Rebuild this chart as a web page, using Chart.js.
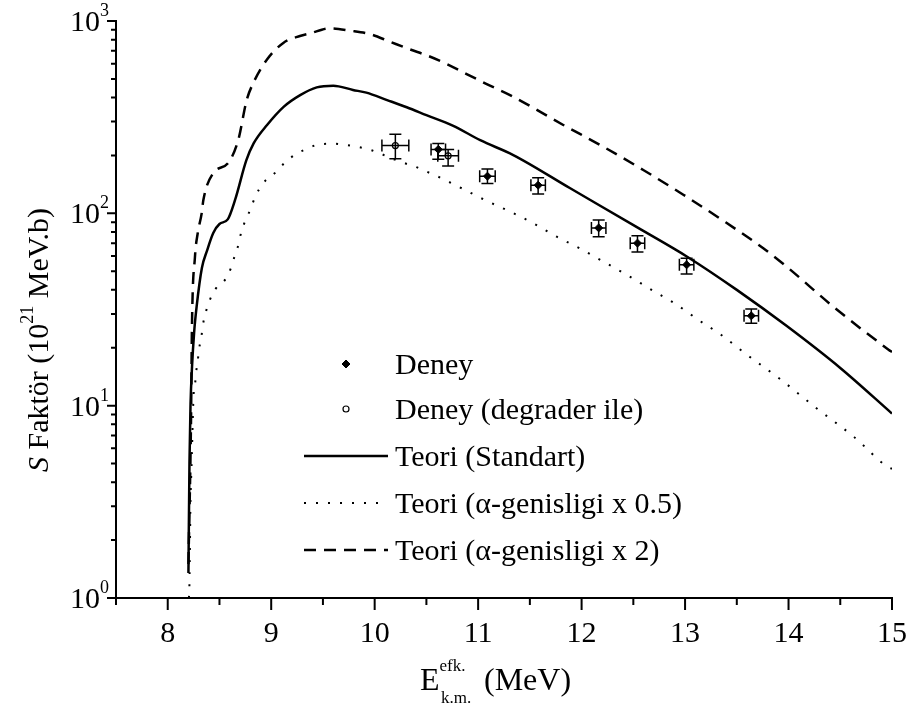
<!DOCTYPE html>
<html>
<head>
    <title>S Faktör</title>
    <script src="https://cdn.jsdelivr.net/npm/chart.js"></script>
    <style>
        body {
            margin: 0;
            background: #fff;
        }
        #sChart {
            display: block;
        }
    </style>
</head>
<body>
    <canvas id="sChart" width="911" height="706"></canvas>

    <script>
        // Teori (Standart)
        const stdE = [8.20, 8.21, 8.22, 8.235, 8.255, 8.28, 8.33, 8.38, 8.44, 8.50, 8.58, 8.65, 8.76, 8.83, 8.96, 9.12, 9.28, 9.44, 9.60, 9.79, 9.92, 10.12, 10.31, 10.50, 10.76, 11.02, 11.34, 11.89, 12.53, 13.02, 13.50, 13.98, 14.50, 15.00];
        const stdS = [1.35, 5, 10, 16, 24, 33, 52, 64, 79, 88, 93, 117, 189, 231, 288, 358, 412, 452, 461, 438, 424, 388, 356, 324, 285, 240, 201, 135, 85, 59.5, 40, 26, 15.7, 9.1];

        // Teori (α-genisligi x 0.5)
        const halfE = [8.205, 8.21, 8.22, 8.23, 8.25, 8.265, 8.275, 8.29, 8.305, 8.325, 8.34, 8.365, 8.40, 8.46, 8.56, 8.61, 8.645, 8.685, 8.71, 8.75, 8.80, 8.84, 8.92, 9.03, 9.13, 9.25, 9.36, 9.47, 9.60, 9.71, 9.83, 9.955, 10.05, 10.165, 10.28, 10.39, 10.50, 10.615, 10.84, 11.07, 11.31, 11.53, 11.76, 11.98, 12.21, 12.44, 12.68, 12.90, 13.13, 13.35, 13.58, 13.93, 14.27, 14.63, 14.96, 15.00];
        const halfS = [1.0, 1.2, 3.2, 4.8, 11.4, 13.1, 15, 17.1, 20, 22.8, 26.3, 30.2, 34.7, 40.3, 45.6, 51.8, 59.5, 69.3, 79.7, 91.6, 105, 120, 143, 161, 183, 205, 218, 229, 230, 227, 222, 214, 205, 193, 183, 175, 165, 155, 135, 117, 102, 89, 75.6, 65.8, 56.1, 47.8, 39.9, 34, 27.9, 23.3, 18.7, 13.6, 9.7, 6.9, 4.8, 4.7];

        // Teori (α-genisligi x 2)
        const doubleE = [8.20, 8.225, 8.234, 8.263, 8.29, 8.328, 8.344, 8.44, 8.585, 8.682, 8.763, 8.827, 8.956, 9.117, 9.278, 9.375, 9.568, 9.761, 9.955, 10.148, 10.341, 10.518, 10.696, 10.889, 11.083, 11.308, 11.823, 12.21, 12.596, 12.983, 13.337, 13.756, 13.982, 14.433, 14.97, 15.00];
        const doubleS = [1.5, 8.4, 25.7, 59.3, 79, 100, 117, 162, 183, 241, 388, 476, 627, 769, 836, 863, 916, 891, 855, 780, 712, 658, 598, 530, 470, 412, 288, 222, 168, 125, 94, 65.8, 52.8, 32.7, 19.5, 19];

        // Deney
        const deneyE = [10.615, 11.09, 11.58, 12.165, 12.54, 13.015, 13.64];
        const deneyS = [215, 156, 140, 84, 70, 54, 29.3];
        const deneyLow = [191, 143, 126, 75.6, 63, 48.4, 26.8];
        const deneyHigh = [231, 170, 153, 92.3, 76.5, 58.4, 31.8];
        const deneyEErr = [0.07, 0.075, 0.07, 0.07, 0.07, 0.07, 0.07];

        // Deney (degrader ile)
        const degE = [10.2, 10.71];
        const degS = [225, 199];
        const degLow = [192, 176];
        const degHigh = [258, 215];
        const degEErr = [0.13, 0.1];

        const xTicks = [8, 9, 10, 11, 12, 13, 14, 15];
        const xMinorTicks = [7.5, 8.5, 9.5, 10.5, 11.5, 12.5, 13.5, 14.5];
        const yTicks = [1, 10, 100, 1000];
        const yTickExp = ["0", "1", "2", "3"];

        const legendLabels = [
            "Deney",
            "Deney (degrader ile)",
            "Teori (Standart)",
            "Teori (\u03b1-genisligi x 0.5)",
            "Teori (\u03b1-genisligi x 2)"
        ];

        const SERIF = '"Liberation Serif", "Times New Roman", serif';
        const FS = 30;

        const toPoints = (xs, ys) => xs.map((x, i) => ({ x: x, y: ys[i] }));

        // draws a run of text pieces, each with its own size / offset
        function drawRich(ctx, parts, x, y, align) {
            let total = 0;
            parts.forEach(p => {
                ctx.font = (p.italic ? "italic " : "") + p.size + "px " + SERIF;
                p.w = ctx.measureText(p.text).width;
                total += p.w;
            });
            let cx = align === "center" ? x - total / 2 : align === "right" ? x - total : x;
            parts.forEach(p => {
                ctx.font = (p.italic ? "italic " : "") + p.size + "px " + SERIF;
                ctx.fillText(p.text, cx, y + (p.dy || 0));
                cx += p.w;
            });
        }

        const errorBars = {
            id: "errorBars",
            afterDatasetsDraw(chart) {
                const ctx = chart.ctx;
                const xs = chart.scales.x, ys = chart.scales.y;
                const sets = [
                    [deneyE, deneyS, deneyLow, deneyHigh, deneyEErr],
                    [degE, degS, degLow, degHigh, degEErr]
                ];
                ctx.save();
                ctx.strokeStyle = "#000";
                ctx.lineWidth = 1.5;
                const cap = 6;
                sets.forEach(([e, s, lo, hi, ee]) => {
                    e.forEach((ev, i) => {
                        const px = xs.getPixelForValue(ev);
                        const py = ys.getPixelForValue(s[i]);
                        const yl = ys.getPixelForValue(lo[i]);
                        const yh = ys.getPixelForValue(hi[i]);
                        const xl = xs.getPixelForValue(ev - ee[i]);
                        const xh = xs.getPixelForValue(ev + ee[i]);
                        ctx.beginPath();
                        ctx.moveTo(px, yl); ctx.lineTo(px, yh);
                        ctx.moveTo(px - cap, yl); ctx.lineTo(px + cap, yl);
                        ctx.moveTo(px - cap, yh); ctx.lineTo(px + cap, yh);
                        ctx.moveTo(xl, py); ctx.lineTo(xh, py);
                        ctx.moveTo(xl, py - cap); ctx.lineTo(xl, py + cap);
                        ctx.moveTo(xh, py - cap); ctx.lineTo(xh, py + cap);
                        ctx.stroke();
                    });
                });
                ctx.restore();
            }
        };

        // axes, tick labels, titles and the legend block
        const frame = {
            id: "frame",
            afterDraw(chart) {
                const ctx = chart.ctx;
                const area = chart.chartArea;
                const xs = chart.scales.x, ys = chart.scales.y;
                ctx.save();
                ctx.strokeStyle = "#000";
                ctx.fillStyle = "#000";
                ctx.lineWidth = 2;
                ctx.lineCap = "square";

                ctx.beginPath();
                ctx.moveTo(area.left, area.top);
                ctx.lineTo(area.left, area.bottom);
                ctx.lineTo(area.right, area.bottom);
                ctx.stroke();

                ctx.lineCap = "butt";
                ctx.beginPath();
                xTicks.forEach(v => {
                    const px = xs.getPixelForValue(v);
                    ctx.moveTo(px, area.bottom); ctx.lineTo(px, area.bottom + 12);
                });
                xMinorTicks.forEach(v => {
                    const px = xs.getPixelForValue(v);
                    ctx.moveTo(px, area.bottom); ctx.lineTo(px, area.bottom + 7);
                });
                yTicks.forEach(v => {
                    const py = ys.getPixelForValue(v);
                    ctx.moveTo(area.left, py); ctx.lineTo(area.left - 9, py);
                });
                yTicks.slice(0, -1).forEach(v => {
                    for (let m = 2; m <= 9; m++) {
                        const py = ys.getPixelForValue(v * m);
                        ctx.moveTo(area.left, py); ctx.lineTo(area.left - 5, py);
                    }
                });
                ctx.stroke();

                ctx.textBaseline = "alphabetic";
                ctx.textAlign = "left";
                xTicks.forEach(v => {
                    drawRich(ctx, [{ text: String(v), size: FS }], xs.getPixelForValue(v), area.bottom + 44, "center");
                });
                yTicks.forEach((v, i) => {
                    const py = ys.getPixelForValue(v);
                    drawRich(ctx, [
                        { text: "10", size: FS },
                        { text: yTickExp[i], size: 18, dy: -15 }
                    ], area.left - 7, py + 10, "right");
                });

                drawRich(ctx, [
                    { text: "E", size: 32 },
                    { text: "efk.", size: 17, dy: -19 }
                ], 420, 690, "left");
                drawRich(ctx, [{ text: "k.m.", size: 17 }], 441, 703, "left");
                drawRich(ctx, [{ text: "(MeV)", size: 32 }], 484, 690, "left");

                ctx.save();
                ctx.translate(48, 340);
                ctx.rotate(-Math.PI / 2);
                drawRich(ctx, [
                    { text: "S", size: FS, italic: true },
                    { text: " Faktör (10", size: FS },
                    { text: "21", size: 18, dy: -15 },
                    { text: " MeV.b)", size: FS }
                ], 0, 0, "center");
                ctx.restore();

                // legend
                const rowY = [364, 409, 456, 503, 550];
                const sets = chart.data.datasets;
                [[4, 0], [5, 1]].forEach(([di, r]) => {
                    const ds = sets[di];
                    ctx.save();
                    ctx.fillStyle = ds.backgroundColor;
                    ctx.strokeStyle = ds.borderColor;
                    ctx.lineWidth = ds.borderWidth;
                    Chart.helpers.drawPoint(ctx, {
                        pointStyle: ds.pointStyle,
                        radius: ds.pointRadius,
                        borderWidth: ds.borderWidth,
                        rotation: 0
                    }, 346, rowY[r]);
                    ctx.restore();
                });
                [[0, 2], [1, 3], [2, 4]].forEach(([di, r]) => {
                    const ds = sets[di];
                    ctx.save();
                    ctx.strokeStyle = ds.borderColor;
                    ctx.lineWidth = ds.borderWidth;
                    ctx.setLineDash(ds.borderDash || []);
                    ctx.beginPath();
                    ctx.moveTo(304, rowY[r]);
                    ctx.lineTo(388, rowY[r]);
                    ctx.stroke();
                    ctx.restore();
                });
                legendLabels.forEach((t, r) => {
                    drawRich(ctx, [{ text: t, size: FS }], 395, rowY[r] + 10, "left");
                });
                ctx.restore();
            }
        };

        const chart = new Chart(document.getElementById("sChart"), {
            type: "scatter",
            data: {
                datasets: [
                    {
                        label: legendLabels[2],
                        data: toPoints(stdE, stdS),
                        showLine: true,
                        borderColor: "#000",
                        borderWidth: 2.5,
                        pointRadius: 0,
                        cubicInterpolationMode: "monotone"
                    },
                    {
                        label: legendLabels[3],
                        data: toPoints(halfE, halfS),
                        showLine: true,
                        borderColor: "#000",
                        borderWidth: 2,
                        borderDash: [2, 10],
                        pointRadius: 0,
                        cubicInterpolationMode: "monotone"
                    },
                    {
                        label: legendLabels[4],
                        data: toPoints(doubleE, doubleS),
                        showLine: true,
                        borderColor: "#000",
                        borderWidth: 2.5,
                        borderDash: [12, 8],
                        pointRadius: 0,
                        cubicInterpolationMode: "monotone"
                    },
                    { label: "bars", data: [], pointRadius: 0 },
                    {
                        label: legendLabels[0],
                        data: toPoints(deneyE, deneyS),
                        pointStyle: "rectRot",
                        pointRadius: 4,
                        backgroundColor: "#000",
                        borderColor: "#000",
                        borderWidth: 1
                    },
                    {
                        label: legendLabels[1],
                        data: toPoints(degE, degS),
                        pointStyle: "circle",
                        pointRadius: 3,
                        backgroundColor: "#fff",
                        borderColor: "#000",
                        borderWidth: 1.2
                    }
                ]
            },
            options: {
                responsive: false,
                animation: false,
                layout: { padding: { left: 116, right: 19, top: 21, bottom: 108 } },
                plugins: {
                    legend: { display: false },
                    tooltip: { enabled: false }
                },
                scales: {
                    x: { type: "linear", min: 7.5, max: 15, display: false },
                    y: { type: "logarithmic", min: 1, max: 1000, display: false }
                }
            },
            plugins: [errorBars, frame]
        });
    </script>
</body>
</html>
